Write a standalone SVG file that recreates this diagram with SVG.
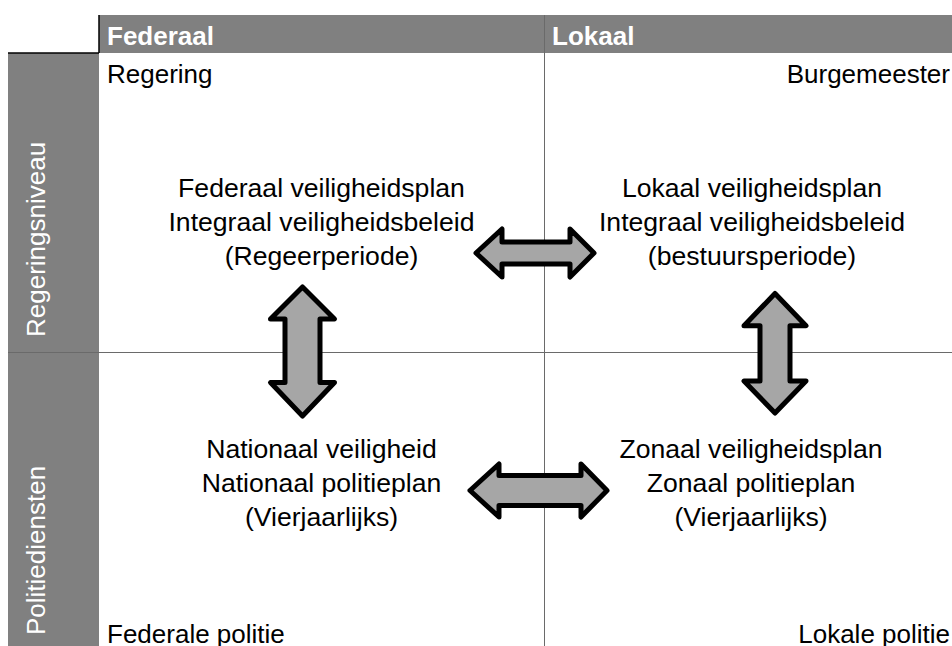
<svg xmlns="http://www.w3.org/2000/svg" width="952" height="646" viewBox="0 0 952 646">
<style>
text{font-family:"Liberation Sans",Arial,sans-serif;font-size:26px;fill:#000}
.hd{font-weight:bold;fill:#fff}
.side{fill:#fff}
.c{text-anchor:middle;font-size:26.6px}
.e{text-anchor:end}
.bar{fill:#808080}
.grid{stroke:#6a6a6a;stroke-width:1;fill:none}
.arrow{fill:#a6a6a6;stroke:#000;stroke-width:5;stroke-linejoin:round}
</style>
<rect width="952" height="646" fill="#fff"/>
<g id="header">
<rect class="bar" x="99" y="15" width="853" height="38"/>
<rect class="bar" x="8" y="53" width="91" height="593"/>
<text class="hd" x="107" y="45">Federaal</text>
<text class="hd" x="552" y="45">Lokaal</text>
<text class="side" transform="translate(45,337) rotate(-90)">Regeringsniveau</text>
<text class="side" transform="translate(45,635) rotate(-90)">Politiediensten</text>
</g>
<g id="grid">
<line class="grid" x1="544.5" y1="15" x2="544.5" y2="646"/>
<line class="grid" x1="8" y1="352.5" x2="952" y2="352.5"/>
<line x1="99" y1="15" x2="99" y2="53" stroke="#000" stroke-width="1.5"/>
<line x1="8" y1="53" x2="99" y2="53" stroke="#000" stroke-width="1.5"/>
</g>
<g id="corner-labels">
<text x="107" y="83">Regering</text>
<text class="e" x="950" y="83">Burgemeester</text>
<text x="107" y="643">Federale politie</text>
<text class="e" x="950" y="643">Lokale politie</text>
</g>
<g id="node-federaal-plan">
<text class="c" x="321.5" y="197">Federaal veiligheidsplan</text>
<text class="c" x="321.5" y="231">Integraal veiligheidsbeleid</text>
<text class="c" x="321.5" y="265">(Regeerperiode)</text>
</g>
<g id="node-lokaal-plan">
<text class="c" x="752" y="197">Lokaal veiligheidsplan</text>
<text class="c" x="752" y="231">Integraal veiligheidsbeleid</text>
<text class="c" x="752" y="265">(bestuursperiode)</text>
</g>
<g id="node-nationaal">
<text class="c" x="321.5" y="458">Nationaal veiligheid</text>
<text class="c" x="321.5" y="492">Nationaal politieplan</text>
<text class="c" x="321.5" y="526">(Vierjaarlijks)</text>
</g>
<g id="node-zonaal">
<text class="c" x="751" y="458">Zonaal veiligheidsplan</text>
<text class="c" x="751" y="492">Zonaal politieplan</text>
<text class="c" x="751" y="526">(Vierjaarlijks)</text>
</g>
<g id="connectors">
<path class="arrow" d="M476,253 L502,229 L502,242 L570,242 L570,229 L594,253 L570,277 L570,264 L502,264 L502,277 Z"/>
<path class="arrow" d="M470,490.5 L499,464 L499,475.5 L581,475.5 L581,464 L607,490.5 L581,517 L581,505.5 L499,505.5 L499,517 Z"/>
<path class="arrow" d="M302.5,287 L334.5,319 L320,319 L320,382.5 L334.5,382.5 L302.5,416 L270.5,382.5 L285,382.5 L285,319 L270.5,319 Z"/>
<path class="arrow" d="M775,293.5 L806,325.8 L790,325.8 L790,381 L806,381 L775,413 L744,381 L760,381 L760,325.8 L744,325.8 Z"/>
</g>
</svg>
